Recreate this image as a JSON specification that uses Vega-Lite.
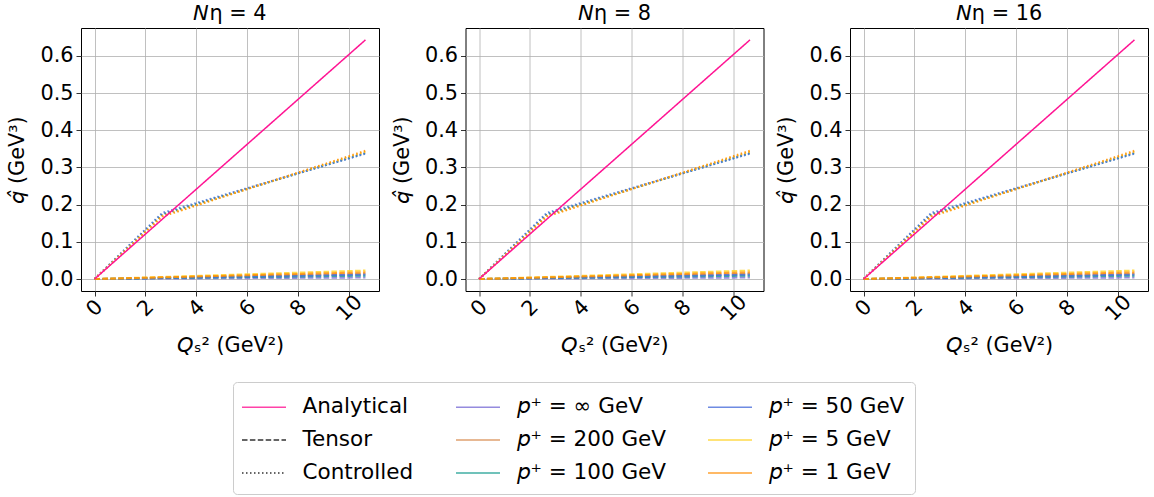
{
  "$schema": "https://vega.github.io/schema/vega-lite/v6.json",
  "padding": {"left": 6, "top": 3, "right": 5, "bottom": 4},
  "config": {
    "font": "DejaVu Sans",
    "view": {"stroke": "black", "strokeWidth": 1},
    "axis": {"grid": true, "gridColor": "#b0b0b0", "gridWidth": 0.8, "domain": false, "tickColor": "black", "tickSize": 5, "tickWidth": 0.8, "labelFont": "DejaVu Sans", "labelFontSize": 20.8, "labelColor": "black", "titleFont": "DejaVu Sans", "titleFontSize": 20.8, "titleFontWeight": "normal", "titleColor": "black"},
    "header": {"labelFont": "DejaVu Sans", "labelFontSize": 20.8, "labelColor": "black", "labelPadding": 3},
    "legend": {"labelFont": "DejaVu Sans", "labelFontSize": 21.5, "labelColor": "black", "labelLimit": 400}
  },
  "data": {"values": [
    {"N": "𝘕η = 4", "c": "Analytical", "d": "Analytical", "x": 0, "y": 0},
    {"N": "𝘕η = 4", "c": "Analytical", "d": "Analytical", "x": 2.66, "y": 0.1608},
    {"N": "𝘕η = 4", "c": "Analytical", "d": "Analytical", "x": 10.64, "y": 0.643},
    {"N": "𝘕η = 4", "c": "𝘱⁺ = ∞ GeV", "d": "Controlled", "x": 0, "y": 0},
    {"N": "𝘕η = 4", "c": "𝘱⁺ = ∞ GeV", "d": "Controlled", "x": 2.66, "y": 0.173},
    {"N": "𝘕η = 4", "c": "𝘱⁺ = ∞ GeV", "d": "Controlled", "x": 10.64, "y": 0.339},
    {"N": "𝘕η = 4", "c": "𝘱⁺ = 200 GeV", "d": "Controlled", "x": 0, "y": 0},
    {"N": "𝘕η = 4", "c": "𝘱⁺ = 200 GeV", "d": "Controlled", "x": 2.66, "y": 0.172},
    {"N": "𝘕η = 4", "c": "𝘱⁺ = 200 GeV", "d": "Controlled", "x": 10.64, "y": 0.341},
    {"N": "𝘕η = 4", "c": "𝘱⁺ = 100 GeV", "d": "Controlled", "x": 0, "y": 0},
    {"N": "𝘕η = 4", "c": "𝘱⁺ = 100 GeV", "d": "Controlled", "x": 2.66, "y": 0.175},
    {"N": "𝘕η = 4", "c": "𝘱⁺ = 100 GeV", "d": "Controlled", "x": 10.64, "y": 0.338},
    {"N": "𝘕η = 4", "c": "𝘱⁺ = 50 GeV", "d": "Controlled", "x": 0, "y": 0},
    {"N": "𝘕η = 4", "c": "𝘱⁺ = 50 GeV", "d": "Controlled", "x": 2.66, "y": 0.178},
    {"N": "𝘕η = 4", "c": "𝘱⁺ = 50 GeV", "d": "Controlled", "x": 10.64, "y": 0.337},
    {"N": "𝘕η = 4", "c": "𝘱⁺ = 5 GeV", "d": "Controlled", "x": 0, "y": 0},
    {"N": "𝘕η = 4", "c": "𝘱⁺ = 5 GeV", "d": "Controlled", "x": 2.66, "y": 0.169},
    {"N": "𝘕η = 4", "c": "𝘱⁺ = 5 GeV", "d": "Controlled", "x": 10.64, "y": 0.343},
    {"N": "𝘕η = 4", "c": "𝘱⁺ = 1 GeV", "d": "Controlled", "x": 0, "y": 0},
    {"N": "𝘕η = 4", "c": "𝘱⁺ = 1 GeV", "d": "Controlled", "x": 2.66, "y": 0.168},
    {"N": "𝘕η = 4", "c": "𝘱⁺ = 1 GeV", "d": "Controlled", "x": 10.64, "y": 0.345},
    {"N": "𝘕η = 4", "c": "𝘱⁺ = ∞ GeV", "d": "Tensor", "x": 0, "y": 0},
    {"N": "𝘕η = 4", "c": "𝘱⁺ = ∞ GeV", "d": "Tensor", "x": 2.66, "y": 0.0012},
    {"N": "𝘕η = 4", "c": "𝘱⁺ = ∞ GeV", "d": "Tensor", "x": 10.64, "y": 0.004},
    {"N": "𝘕η = 4", "c": "𝘱⁺ = 200 GeV", "d": "Tensor", "x": 0, "y": 0},
    {"N": "𝘕η = 4", "c": "𝘱⁺ = 200 GeV", "d": "Tensor", "x": 2.66, "y": 0.0035},
    {"N": "𝘕η = 4", "c": "𝘱⁺ = 200 GeV", "d": "Tensor", "x": 10.64, "y": 0.014},
    {"N": "𝘕η = 4", "c": "𝘱⁺ = 100 GeV", "d": "Tensor", "x": 0, "y": 0},
    {"N": "𝘕η = 4", "c": "𝘱⁺ = 100 GeV", "d": "Tensor", "x": 2.66, "y": 0.0025},
    {"N": "𝘕η = 4", "c": "𝘱⁺ = 100 GeV", "d": "Tensor", "x": 10.64, "y": 0.009},
    {"N": "𝘕η = 4", "c": "𝘱⁺ = 50 GeV", "d": "Tensor", "x": 0, "y": 0},
    {"N": "𝘕η = 4", "c": "𝘱⁺ = 50 GeV", "d": "Tensor", "x": 2.66, "y": 0.003},
    {"N": "𝘕η = 4", "c": "𝘱⁺ = 50 GeV", "d": "Tensor", "x": 10.64, "y": 0.012},
    {"N": "𝘕η = 4", "c": "𝘱⁺ = 5 GeV", "d": "Tensor", "x": 0, "y": 0},
    {"N": "𝘕η = 4", "c": "𝘱⁺ = 5 GeV", "d": "Tensor", "x": 2.66, "y": 0.0055},
    {"N": "𝘕η = 4", "c": "𝘱⁺ = 5 GeV", "d": "Tensor", "x": 10.64, "y": 0.023},
    {"N": "𝘕η = 4", "c": "𝘱⁺ = 1 GeV", "d": "Tensor", "x": 0, "y": 0},
    {"N": "𝘕η = 4", "c": "𝘱⁺ = 1 GeV", "d": "Tensor", "x": 2.66, "y": 0.0045},
    {"N": "𝘕η = 4", "c": "𝘱⁺ = 1 GeV", "d": "Tensor", "x": 10.64, "y": 0.018},

    {"N": "𝘕η = 8", "c": "Analytical", "d": "Analytical", "x": 0, "y": 0},
    {"N": "𝘕η = 8", "c": "Analytical", "d": "Analytical", "x": 2.66, "y": 0.1608},
    {"N": "𝘕η = 8", "c": "Analytical", "d": "Analytical", "x": 10.64, "y": 0.643},
    {"N": "𝘕η = 8", "c": "𝘱⁺ = ∞ GeV", "d": "Controlled", "x": 0, "y": 0},
    {"N": "𝘕η = 8", "c": "𝘱⁺ = ∞ GeV", "d": "Controlled", "x": 2.66, "y": 0.173},
    {"N": "𝘕η = 8", "c": "𝘱⁺ = ∞ GeV", "d": "Controlled", "x": 10.64, "y": 0.339},
    {"N": "𝘕η = 8", "c": "𝘱⁺ = 200 GeV", "d": "Controlled", "x": 0, "y": 0},
    {"N": "𝘕η = 8", "c": "𝘱⁺ = 200 GeV", "d": "Controlled", "x": 2.66, "y": 0.172},
    {"N": "𝘕η = 8", "c": "𝘱⁺ = 200 GeV", "d": "Controlled", "x": 10.64, "y": 0.341},
    {"N": "𝘕η = 8", "c": "𝘱⁺ = 100 GeV", "d": "Controlled", "x": 0, "y": 0},
    {"N": "𝘕η = 8", "c": "𝘱⁺ = 100 GeV", "d": "Controlled", "x": 2.66, "y": 0.175},
    {"N": "𝘕η = 8", "c": "𝘱⁺ = 100 GeV", "d": "Controlled", "x": 10.64, "y": 0.338},
    {"N": "𝘕η = 8", "c": "𝘱⁺ = 50 GeV", "d": "Controlled", "x": 0, "y": 0},
    {"N": "𝘕η = 8", "c": "𝘱⁺ = 50 GeV", "d": "Controlled", "x": 2.66, "y": 0.178},
    {"N": "𝘕η = 8", "c": "𝘱⁺ = 50 GeV", "d": "Controlled", "x": 10.64, "y": 0.337},
    {"N": "𝘕η = 8", "c": "𝘱⁺ = 5 GeV", "d": "Controlled", "x": 0, "y": 0},
    {"N": "𝘕η = 8", "c": "𝘱⁺ = 5 GeV", "d": "Controlled", "x": 2.66, "y": 0.169},
    {"N": "𝘕η = 8", "c": "𝘱⁺ = 5 GeV", "d": "Controlled", "x": 10.64, "y": 0.343},
    {"N": "𝘕η = 8", "c": "𝘱⁺ = 1 GeV", "d": "Controlled", "x": 0, "y": 0},
    {"N": "𝘕η = 8", "c": "𝘱⁺ = 1 GeV", "d": "Controlled", "x": 2.66, "y": 0.168},
    {"N": "𝘕η = 8", "c": "𝘱⁺ = 1 GeV", "d": "Controlled", "x": 10.64, "y": 0.345},
    {"N": "𝘕η = 8", "c": "𝘱⁺ = ∞ GeV", "d": "Tensor", "x": 0, "y": 0},
    {"N": "𝘕η = 8", "c": "𝘱⁺ = ∞ GeV", "d": "Tensor", "x": 2.66, "y": 0.0012},
    {"N": "𝘕η = 8", "c": "𝘱⁺ = ∞ GeV", "d": "Tensor", "x": 10.64, "y": 0.004},
    {"N": "𝘕η = 8", "c": "𝘱⁺ = 200 GeV", "d": "Tensor", "x": 0, "y": 0},
    {"N": "𝘕η = 8", "c": "𝘱⁺ = 200 GeV", "d": "Tensor", "x": 2.66, "y": 0.0035},
    {"N": "𝘕η = 8", "c": "𝘱⁺ = 200 GeV", "d": "Tensor", "x": 10.64, "y": 0.014},
    {"N": "𝘕η = 8", "c": "𝘱⁺ = 100 GeV", "d": "Tensor", "x": 0, "y": 0},
    {"N": "𝘕η = 8", "c": "𝘱⁺ = 100 GeV", "d": "Tensor", "x": 2.66, "y": 0.0025},
    {"N": "𝘕η = 8", "c": "𝘱⁺ = 100 GeV", "d": "Tensor", "x": 10.64, "y": 0.009},
    {"N": "𝘕η = 8", "c": "𝘱⁺ = 50 GeV", "d": "Tensor", "x": 0, "y": 0},
    {"N": "𝘕η = 8", "c": "𝘱⁺ = 50 GeV", "d": "Tensor", "x": 2.66, "y": 0.003},
    {"N": "𝘕η = 8", "c": "𝘱⁺ = 50 GeV", "d": "Tensor", "x": 10.64, "y": 0.012},
    {"N": "𝘕η = 8", "c": "𝘱⁺ = 5 GeV", "d": "Tensor", "x": 0, "y": 0},
    {"N": "𝘕η = 8", "c": "𝘱⁺ = 5 GeV", "d": "Tensor", "x": 2.66, "y": 0.0055},
    {"N": "𝘕η = 8", "c": "𝘱⁺ = 5 GeV", "d": "Tensor", "x": 10.64, "y": 0.023},
    {"N": "𝘕η = 8", "c": "𝘱⁺ = 1 GeV", "d": "Tensor", "x": 0, "y": 0},
    {"N": "𝘕η = 8", "c": "𝘱⁺ = 1 GeV", "d": "Tensor", "x": 2.66, "y": 0.0045},
    {"N": "𝘕η = 8", "c": "𝘱⁺ = 1 GeV", "d": "Tensor", "x": 10.64, "y": 0.018},

    {"N": "𝘕η = 16", "c": "Analytical", "d": "Analytical", "x": 0, "y": 0},
    {"N": "𝘕η = 16", "c": "Analytical", "d": "Analytical", "x": 2.66, "y": 0.1608},
    {"N": "𝘕η = 16", "c": "Analytical", "d": "Analytical", "x": 10.64, "y": 0.643},
    {"N": "𝘕η = 16", "c": "𝘱⁺ = ∞ GeV", "d": "Controlled", "x": 0, "y": 0},
    {"N": "𝘕η = 16", "c": "𝘱⁺ = ∞ GeV", "d": "Controlled", "x": 2.66, "y": 0.173},
    {"N": "𝘕η = 16", "c": "𝘱⁺ = ∞ GeV", "d": "Controlled", "x": 10.64, "y": 0.339},
    {"N": "𝘕η = 16", "c": "𝘱⁺ = 200 GeV", "d": "Controlled", "x": 0, "y": 0},
    {"N": "𝘕η = 16", "c": "𝘱⁺ = 200 GeV", "d": "Controlled", "x": 2.66, "y": 0.172},
    {"N": "𝘕η = 16", "c": "𝘱⁺ = 200 GeV", "d": "Controlled", "x": 10.64, "y": 0.341},
    {"N": "𝘕η = 16", "c": "𝘱⁺ = 100 GeV", "d": "Controlled", "x": 0, "y": 0},
    {"N": "𝘕η = 16", "c": "𝘱⁺ = 100 GeV", "d": "Controlled", "x": 2.66, "y": 0.175},
    {"N": "𝘕η = 16", "c": "𝘱⁺ = 100 GeV", "d": "Controlled", "x": 10.64, "y": 0.338},
    {"N": "𝘕η = 16", "c": "𝘱⁺ = 50 GeV", "d": "Controlled", "x": 0, "y": 0},
    {"N": "𝘕η = 16", "c": "𝘱⁺ = 50 GeV", "d": "Controlled", "x": 2.66, "y": 0.178},
    {"N": "𝘕η = 16", "c": "𝘱⁺ = 50 GeV", "d": "Controlled", "x": 10.64, "y": 0.337},
    {"N": "𝘕η = 16", "c": "𝘱⁺ = 5 GeV", "d": "Controlled", "x": 0, "y": 0},
    {"N": "𝘕η = 16", "c": "𝘱⁺ = 5 GeV", "d": "Controlled", "x": 2.66, "y": 0.169},
    {"N": "𝘕η = 16", "c": "𝘱⁺ = 5 GeV", "d": "Controlled", "x": 10.64, "y": 0.343},
    {"N": "𝘕η = 16", "c": "𝘱⁺ = 1 GeV", "d": "Controlled", "x": 0, "y": 0},
    {"N": "𝘕η = 16", "c": "𝘱⁺ = 1 GeV", "d": "Controlled", "x": 2.66, "y": 0.168},
    {"N": "𝘕η = 16", "c": "𝘱⁺ = 1 GeV", "d": "Controlled", "x": 10.64, "y": 0.345},
    {"N": "𝘕η = 16", "c": "𝘱⁺ = ∞ GeV", "d": "Tensor", "x": 0, "y": 0},
    {"N": "𝘕η = 16", "c": "𝘱⁺ = ∞ GeV", "d": "Tensor", "x": 2.66, "y": 0.0012},
    {"N": "𝘕η = 16", "c": "𝘱⁺ = ∞ GeV", "d": "Tensor", "x": 10.64, "y": 0.004},
    {"N": "𝘕η = 16", "c": "𝘱⁺ = 200 GeV", "d": "Tensor", "x": 0, "y": 0},
    {"N": "𝘕η = 16", "c": "𝘱⁺ = 200 GeV", "d": "Tensor", "x": 2.66, "y": 0.0035},
    {"N": "𝘕η = 16", "c": "𝘱⁺ = 200 GeV", "d": "Tensor", "x": 10.64, "y": 0.014},
    {"N": "𝘕η = 16", "c": "𝘱⁺ = 100 GeV", "d": "Tensor", "x": 0, "y": 0},
    {"N": "𝘕η = 16", "c": "𝘱⁺ = 100 GeV", "d": "Tensor", "x": 2.66, "y": 0.0025},
    {"N": "𝘕η = 16", "c": "𝘱⁺ = 100 GeV", "d": "Tensor", "x": 10.64, "y": 0.009},
    {"N": "𝘕η = 16", "c": "𝘱⁺ = 50 GeV", "d": "Tensor", "x": 0, "y": 0},
    {"N": "𝘕η = 16", "c": "𝘱⁺ = 50 GeV", "d": "Tensor", "x": 2.66, "y": 0.003},
    {"N": "𝘕η = 16", "c": "𝘱⁺ = 50 GeV", "d": "Tensor", "x": 10.64, "y": 0.012},
    {"N": "𝘕η = 16", "c": "𝘱⁺ = 5 GeV", "d": "Tensor", "x": 0, "y": 0},
    {"N": "𝘕η = 16", "c": "𝘱⁺ = 5 GeV", "d": "Tensor", "x": 2.66, "y": 0.0055},
    {"N": "𝘕η = 16", "c": "𝘱⁺ = 5 GeV", "d": "Tensor", "x": 10.64, "y": 0.023},
    {"N": "𝘕η = 16", "c": "𝘱⁺ = 1 GeV", "d": "Tensor", "x": 0, "y": 0},
    {"N": "𝘕η = 16", "c": "𝘱⁺ = 1 GeV", "d": "Tensor", "x": 2.66, "y": 0.0045},
    {"N": "𝘕η = 16", "c": "𝘱⁺ = 1 GeV", "d": "Tensor", "x": 10.64, "y": 0.018}
  ]},
  "facet": {"column": {"field": "N", "type": "nominal", "sort": ["𝘕η = 4", "𝘕η = 8", "𝘕η = 16"], "header": {"title": null}}},
  "spacing": 86.5,
  "bounds": "flush",
  "resolve": {"axis": {"x": "independent", "y": "independent"}},
  "spec": {
    "width": 298,
    "height": 263,
    "encoding": {
      "x": {"field": "x", "type": "quantitative", "scale": {"domain": [-0.532, 11.172], "nice": false, "zero": false},
        "axis": {"title": "𝘘ₛ² (GeV²)", "values": [0, 2, 4, 6, 8, 10], "labelAngle": -45, "labelAlign": "center", "labelBaseline": "middle", "labelPadding": 12, "titlePadding": 11}},
      "y": {"field": "y", "type": "quantitative", "scale": {"domain": [-0.0322, 0.675], "nice": false, "zero": false},
        "axis": {"title": "𝘲̂ (GeV³)", "values": [0, 0.1, 0.2, 0.3, 0.4, 0.5, 0.6], "format": ".1f", "labelPadding": 3, "titlePadding": 12}},
      "color": {"field": "c", "type": "nominal",
        "scale": {"domain": ["Analytical", "𝘱⁺ = ∞ GeV", "𝘱⁺ = 50 GeV", "Tensor", "𝘱⁺ = 200 GeV", "𝘱⁺ = 5 GeV", "Controlled", "𝘱⁺ = 100 GeV", "𝘱⁺ = 1 GeV"],
          "range": ["#ff1493", "#7b6fd6", "#4a6fdc", "black", "#d98a4e", "#ffd21f", "black", "#139a8f", "#ff8c00"]},
        "legend": {"title": null, "orient": "none", "legendX": 152, "legendY": 354, "columns": 3, "direction": "horizontal", "symbolType": "M-1.5714,0H1.5714", "symbolSize": 784, "symbolOffset": 6, "symbolStrokeWidth": 1.5, "labelOffset": 23.5, "columnPadding": 39, "rowPadding": 7, "padding": 10, "strokeColor": "#cccccc", "fillColor": "white", "cornerRadius": 4}},
      "strokeDash": {"field": "d", "type": "nominal",
        "scale": {"domain": ["Analytical", "𝘱⁺ = ∞ GeV", "𝘱⁺ = 50 GeV", "Tensor", "𝘱⁺ = 200 GeV", "𝘱⁺ = 5 GeV", "Controlled", "𝘱⁺ = 100 GeV", "𝘱⁺ = 1 GeV"],
          "range": [[1, 0], [1, 0], [1, 0], [5.5, 2.4], [1, 0], [1, 0], [1.5, 2.5], [1, 0], [1, 0]]},
        "legend": {"title": null}}
    },
    "layer": [
      {"transform": [{"filter": "datum.d !== 'Analytical'"}], "mark": {"type": "line", "strokeWidth": 2, "opacity": 0.8}},
      {"transform": [{"filter": "datum.d === 'Analytical'"}], "mark": {"type": "line", "strokeWidth": 1.5}}
    ]
  }
}
